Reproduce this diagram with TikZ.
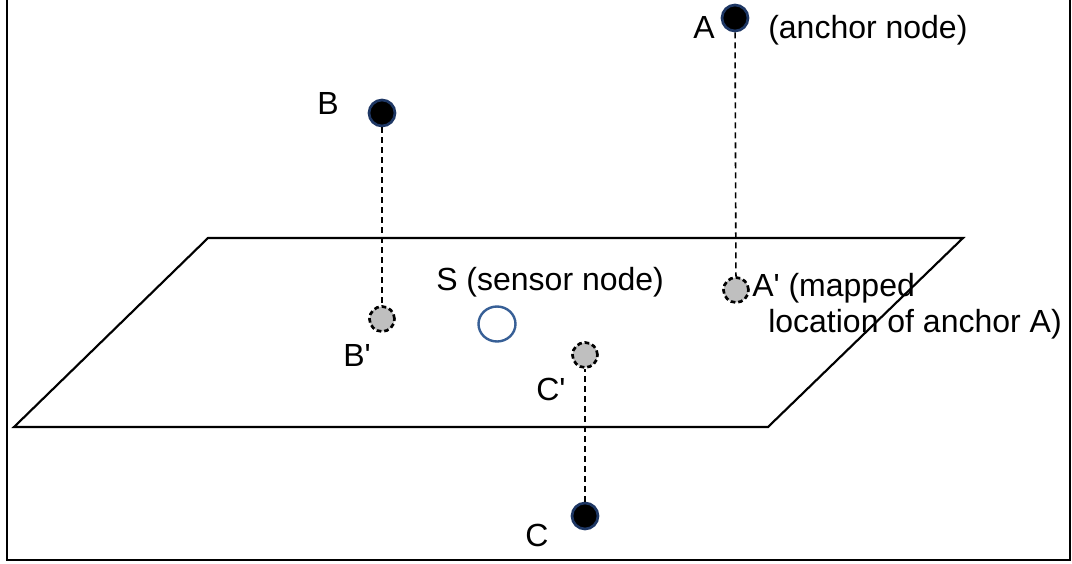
\documentclass[tikz,border=0pt]{standalone}
\usepackage{fontspec}
\setmainfont{Liberation Sans}[Ligatures=TeXOff]
\usetikzlibrary{shapes.geometric}
\definecolor{dotrim}{RGB}{30,55,100}
\definecolor{sensorblue}{RGB}{55,95,150}
\begin{document}
\begin{tikzpicture}[x=0.75pt,y=-0.75pt,
  lbl/.style={font=\fontsize{24}{28}\selectfont, inner sep=0pt},
  anchordot/.style={circle, fill=black, draw=dotrim, line width=2pt, minimum size=26*0.75pt, inner sep=0pt},
  mapped/.style={circle, fill=black!25, draw=black, line width=2pt, dash pattern=on 3.5pt off 2.2pt, minimum size=25*0.75pt, inner sep=0pt},
  proj/.style={draw=black, line width=1.2pt, dash pattern=on 4.5pt off 3pt}]
\useasboundingbox (0,0) rectangle (1072,564);
% frame
\draw[line width=2.2pt] (7,-2) -- (7,560) -- (1070,560) -- (1070,-2);
% plane
\coordinate (p1) at (208,238);
\coordinate (p2) at (963,238);
\coordinate (p3) at (768,427);
\coordinate (p4) at (14,427);
\draw[line width=1.6pt] (p1) -- (p2) -- (p3) -- (p4) -- cycle;
% nodes
\node[anchordot] (A) at (735,18) {};
\node[mapped] (Ap) at (736,290) {};
\node[anchordot] (B) at (382,113) {};
\node[mapped] (Bp) at (382,319) {};
\node[mapped] (Cp) at (585,355) {};
\node[anchordot] (C) at (585,516) {};
\node[ellipse, draw=sensorblue, line width=1.8pt, minimum width=37*0.75pt, minimum height=35*0.75pt, inner sep=0pt] (S) at (497,324) {};
% projection lines
\draw[proj] (A) -- (Ap);
\draw[proj] (B) -- (Bp);
\draw[proj] (C) -- (Cp);
% labels
\node[lbl] (lA) at (704,27) {A};
\node[lbl, anchor=west] (lAn) at (768,30) {(anchor node)};
\node[lbl] (lB) at (328,103) {B};
\node[lbl] (lBp) at (357,355) {B'};
\node[lbl, anchor=west] (lS) at (436,282) {S (sensor node)};
\node[lbl] (lCp) at (551,389) {C'};
\node[lbl] (lC) at (537,535) {C};
\node[lbl, anchor=west] (lAp) at (752,288) {A' (mapped};
\node[lbl, anchor=west] (lAp2) at (768,324) {location of anchor A)};
\end{tikzpicture}
\end{document}
